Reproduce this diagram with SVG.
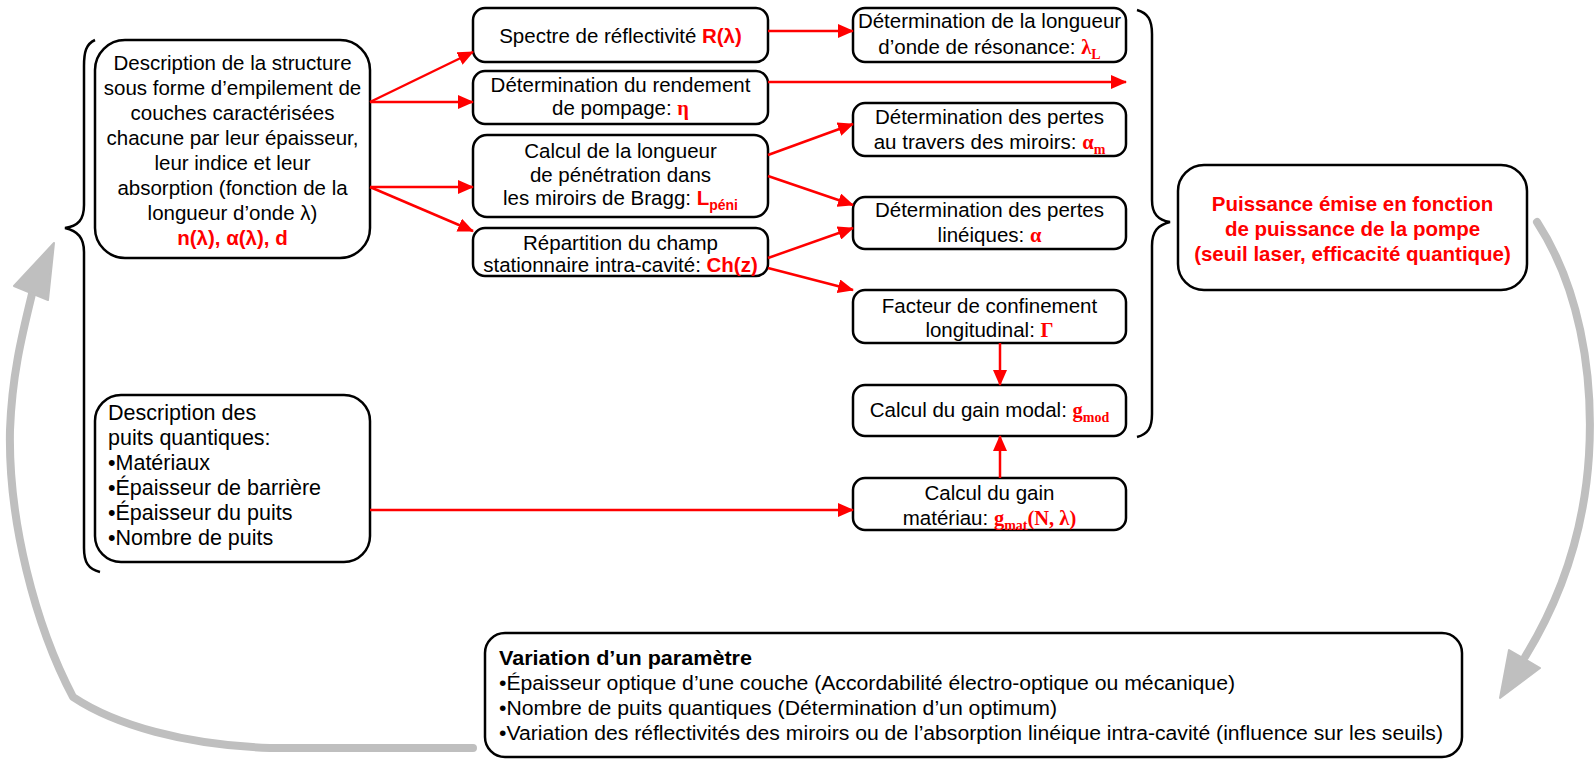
<svg xmlns="http://www.w3.org/2000/svg" width="1595" height="760" viewBox="0 0 1595 760">
<style>
.box{fill:#fff;stroke:#000;stroke-width:2.5}
.t{font-family:"Liberation Sans",Arial,sans-serif;font-size:20.5px;fill:#000}
.p{font-size:21.5px}
.c{text-anchor:middle}
.rb{fill:#f00;font-weight:bold}
.rs{fill:#f00;font-weight:bold;font-family:"Liberation Serif","Times New Roman",serif}
.sub{font-size:14px}
.conn{stroke:#f00;stroke-width:2.5;fill:none}
.gray{stroke:#bfbfbf;stroke-width:8;fill:none;stroke-linecap:round;stroke-linejoin:round}
.grayhead{fill:#bfbfbf;stroke:#bfbfbf;stroke-width:2;stroke-linejoin:round}
.brace{stroke:#000;stroke-width:2.5;fill:none}
.bt{font-family:"Liberation Sans",Arial,sans-serif;font-size:20px;fill:#000}
</style>
<defs>
<marker id="ah" markerUnits="userSpaceOnUse" markerWidth="16" markerHeight="14" refX="15" refY="7" orient="auto">
<path d="M0,0 L16,7 L0,14 z" fill="#f00"/>
</marker>
</defs>

<g id="brace-left">
<path class="brace" d="M95,40 C86,44 84,52 84,66 L84,205 C84,220 78,226 65,228 C78,231 84,238 84,252 L84,548 C84,562 88,569 100,572"/>
</g>
<g id="brace-right">
<path class="brace" d="M1137,10 C1148,13 1152,20 1152,34 L1152,200 C1152,214 1158,220 1170,222 C1158,225 1152,231 1152,246 L1152,414 C1152,428 1148,434 1137,437"/>
</g>

<g id="n-structure">
<rect class="box" x="95" y="40" width="275" height="218" rx="30"/>
<text class="t c" x="232.5" y="70">Description de la structure</text>
<text class="t c" x="232.5" y="95">sous forme d’empilement de</text>
<text class="t c" x="232.5" y="120">couches caractérisées</text>
<text class="t c" x="232.5" y="145">chacune par leur épaisseur,</text>
<text class="t c" x="232.5" y="170">leur indice et leur</text>
<text class="t c" x="232.5" y="195">absorption (fonction de la</text>
<text class="t c" x="232.5" y="220">longueur d’onde λ)</text>
<text class="t c rb" x="232.5" y="245">n(λ), α(λ), d</text>
</g>

<g id="n-puits">
<rect class="box" x="95" y="395" width="275" height="167" rx="26"/>
<text class="t p" x="108" y="420">Description des</text>
<text class="t p" x="108" y="445">puits quantiques:</text>
<text class="t p" x="108" y="470">•Matériaux</text>
<text class="t p" x="108" y="495">•Épaisseur de barrière</text>
<text class="t p" x="108" y="520">•Épaisseur du puits</text>
<text class="t p" x="108" y="545">•Nombre de puits</text>
</g>

<g id="n-spectre">
<rect class="box" x="473" y="8" width="295" height="54" rx="12"/>
<text class="t c" x="620.5" y="43">Spectre de réflectivité <tspan class="rb">R(λ)</tspan></text>
</g>
<g id="n-rendement">
<rect class="box" x="473" y="71" width="295" height="53" rx="12"/>
<text class="t c" x="620.5" y="92">Détermination du rendement</text>
<text class="t c" x="620.5" y="115">de pompage: <tspan class="rs">η</tspan></text>
</g>
<g id="n-penetration">
<rect class="box" x="473" y="135" width="295" height="82" rx="14"/>
<text class="t c" x="620.5" y="158">Calcul de la longueur</text>
<text class="t c" x="620.5" y="182">de pénétration dans</text>
<text class="t c" x="620.5" y="205">les miroirs de Bragg: <tspan class="rb">L</tspan><tspan class="rb sub" dy="5">péni</tspan></text>
</g>
<g id="n-champ">
<rect class="box" x="473" y="228" width="295" height="48" rx="12"/>
<text class="t c" x="620.5" y="250">Répartition du champ</text>
<text class="t c" x="620.5" y="272">stationnaire intra-cavité: <tspan class="rb">Ch(z)</tspan></text>
</g>

<g id="n-resonance">
<rect class="box" x="853" y="8" width="273" height="54" rx="12"/>
<text class="t c" x="989.5" y="28">Détermination de la longueur</text>
<text class="t c" x="989.5" y="54">d’onde de résonance: <tspan class="rs">λ</tspan><tspan class="rs sub" dy="5">L</tspan></text>
</g>
<g id="n-miroirs">
<rect class="box" x="853" y="103" width="273" height="53" rx="12"/>
<text class="t c" x="989.5" y="124">Détermination des pertes</text>
<text class="t c" x="989.5" y="149">au travers des miroirs: <tspan class="rs">α</tspan><tspan class="rs sub" dy="5">m</tspan></text>
</g>
<g id="n-lineiques">
<rect class="box" x="853" y="197" width="273" height="52" rx="12"/>
<text class="t c" x="989.5" y="217">Détermination des pertes</text>
<text class="t c" x="989.5" y="242">linéiques: <tspan class="rs">α</tspan></text>
</g>
<g id="n-confinement">
<rect class="box" x="853" y="290" width="273" height="53" rx="12"/>
<text class="t c" x="989.5" y="313">Facteur de confinement</text>
<text class="t c" x="989.5" y="337">longitudinal: <tspan class="rs">Γ</tspan></text>
</g>
<g id="n-modal">
<rect class="box" x="853" y="385" width="273" height="51" rx="12"/>
<text class="t c" x="989.5" y="417">Calcul du gain modal: <tspan class="rs">g</tspan><tspan class="rs sub" dy="5">mod</tspan></text>
</g>
<g id="n-materiau">
<rect class="box" x="853" y="478" width="273" height="52" rx="12"/>
<text class="t c" x="989.5" y="500">Calcul du gain</text>
<text class="t c" x="989.5" y="525">matériau: <tspan class="rs">g</tspan><tspan class="rs sub" dy="5">mat</tspan><tspan class="rs" dy="-5">(N, λ)</tspan></text>
</g>

<g id="n-puissance">
<rect class="box" x="1178" y="165" width="349" height="125" rx="26"/>
<text class="t c rb" x="1352.5" y="211">Puissance émise en fonction</text>
<text class="t c rb" x="1352.5" y="236">de puissance de la pompe</text>
<text class="t c rb" x="1352.5" y="261">(seuil laser, efficacité quantique)</text>
</g>

<g id="n-variation">
<rect class="box" x="485" y="633" width="977" height="124" rx="20"/>
<text class="bt" x="499" y="665" font-weight="bold" textLength="253" lengthAdjust="spacingAndGlyphs">Variation d’un paramètre</text>
<text class="bt" x="499" y="690" textLength="736" lengthAdjust="spacingAndGlyphs">•Épaisseur optique d’une couche (Accordabilité électro-optique ou mécanique)</text>
<text class="bt" x="499" y="715" textLength="558" lengthAdjust="spacingAndGlyphs">•Nombre de puits quantiques (Détermination d’un optimum)</text>
<text class="bt" x="499" y="740" textLength="944" lengthAdjust="spacingAndGlyphs">•Variation des réflectivités des miroirs ou de l’absorption linéique intra-cavité (influence sur les seuils)</text>
</g>

<g id="connectors">
<line class="conn" x1="370" y1="102" x2="473" y2="52" marker-end="url(#ah)"/>
<line class="conn" x1="370" y1="102" x2="473" y2="102" marker-end="url(#ah)"/>
<line class="conn" x1="370" y1="187" x2="473" y2="187" marker-end="url(#ah)"/>
<line class="conn" x1="370" y1="187" x2="473" y2="231" marker-end="url(#ah)"/>
<line class="conn" x1="768" y1="31" x2="853" y2="31" marker-end="url(#ah)"/>
<line class="conn" x1="768" y1="82" x2="1126" y2="82" marker-end="url(#ah)"/>
<line class="conn" x1="768" y1="155" x2="853" y2="124" marker-end="url(#ah)"/>
<line class="conn" x1="768" y1="176" x2="853" y2="205" marker-end="url(#ah)"/>
<line class="conn" x1="768" y1="258" x2="853" y2="228" marker-end="url(#ah)"/>
<line class="conn" x1="768" y1="268" x2="853" y2="290" marker-end="url(#ah)"/>
<line class="conn" x1="1000" y1="343" x2="1000" y2="385" marker-end="url(#ah)"/>
<line class="conn" x1="1000" y1="478" x2="1000" y2="436" marker-end="url(#ah)"/>
<line class="conn" x1="370" y1="510" x2="853" y2="510" marker-end="url(#ah)"/>
<path class="gray" d="M1537,222 C1578,285 1594,370 1589,455 C1584,535 1560,600 1525,657"/>
<polygon class="grayhead" points="1500,698 1509,650 1540,668"/>
<path class="gray" d="M473,748 L270,748 C185,745 115,725 73,697 C35,625 8,520 10,430 C12,375 22,335 32,294"/>
<polygon class="grayhead" points="54,243 14,286 48,300"/>
</g>
</svg>
